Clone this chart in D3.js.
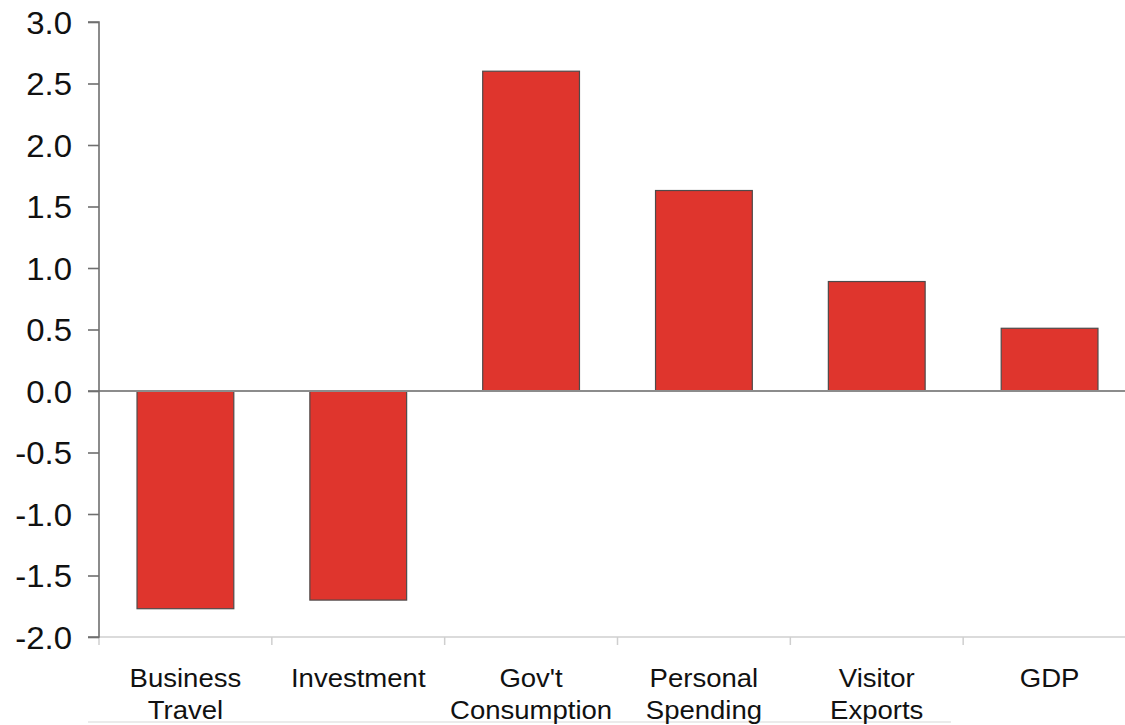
<!DOCTYPE html>
<html>
<head>
<meta charset="utf-8">
<script src="https://cdn.jsdelivr.net/npm/d3@7"></script>
<style>
  html, body { margin: 0; padding: 0; background: #fff; }
  svg { display: block; }
  text { font-family: "Liberation Sans", Arial, sans-serif; fill: #111; }
</style>
</head>
<body>
<svg id="chart" width="1125" height="725"></svg>
<script>
// Contribution by component (percentage points)
const categories = ["Business Travel", "Investment", "Gov't Consumption", "Personal Spending", "Visitor Exports", "GDP"];
const values = [-1.77, -1.70, 2.60, 1.63, 0.89, 0.51];
const yTicks = [-2.0, -1.5, -1.0, -0.5, 0.0, 0.5, 1.0, 1.5, 2.0, 2.5, 3.0];

const W = 1125, H = 725;
const svg = d3.select("#chart");

const y = d3.scaleLinear().domain([-2, 3]).range([637, 22]);
const x = d3.scaleBand()
  .domain(categories)
  .range([99, 1136])
  .paddingInner(0.44)
  .paddingOuter(0.22);

const textStretch = 1.08;

// bottom category axis (light gray) with separators between categories
const bottom = svg.append("g");
bottom.append("line")
  .attr("x1", 99).attr("x2", W)
  .attr("y1", y(-2)).attr("y2", y(-2))
  .attr("stroke", "#cfcfcf").attr("stroke-width", 1.5);
bottom.selectAll("line.sep")
  .data(categories)
  .join("line")
  .attr("class", "sep")
  .attr("x1", d => x(d) - x.step() * x.paddingOuter())
  .attr("x2", d => x(d) - x.step() * x.paddingOuter())
  .attr("y1", y(-2)).attr("y2", y(-2) + 8)
  .attr("stroke", "#cfcfcf").attr("stroke-width", 1.5);

// faint rule under the labels
svg.append("line")
  .attr("x1", 88).attr("x2", 951)
  .attr("y1", 722).attr("y2", 722)
  .attr("stroke", "#e4e4e4").attr("stroke-width", 1.5);

// bars
svg.append("g")
  .selectAll("rect")
  .data(values)
  .join("rect")
  .attr("x", (d, i) => x(categories[i]))
  .attr("width", x.bandwidth())
  .attr("y", d => y(Math.max(0, d)))
  .attr("height", d => Math.abs(y(d) - y(0)))
  .attr("fill", "#df352d")
  .attr("stroke", "#4f4a4a")
  .attr("stroke-width", 1.2);

// zero line
svg.append("line")
  .attr("x1", 88).attr("x2", W)
  .attr("y1", y(0)).attr("y2", y(0))
  .attr("stroke", "#8c8c8c").attr("stroke-width", 2);

// y axis
const yAxis = svg.append("g")
  .attr("transform", "translate(99,0)")
  .call(d3.axisLeft(y).tickValues(yTicks).tickSize(11).tickPadding(0)
    .tickFormat(d => d.toFixed(1)));
yAxis.select(".domain").attr("stroke", "#6f6f6f").attr("stroke-width", 1.6)
  .attr("d", `M-11,${y(3)}H0V${y(-2)}H-11`);
yAxis.selectAll(".tick line").attr("stroke", "#6f6f6f").attr("stroke-width", 1.6);
yAxis.selectAll(".tick text")
  .attr("x", 0).attr("dy", null).attr("y", 11)
  .attr("transform", `translate(-27,0) scale(${textStretch},1)`)
  .attr("text-anchor", "end")
  .style("font-family", '"Liberation Sans", Arial, sans-serif')
  .style("font-size", "30.5px")
  .style("fill", "#111");

// category labels
const labels = svg.append("g").selectAll("text")
  .data(categories)
  .join("text")
  .attr("text-anchor", "middle")
  .attr("transform", d => `translate(${x(d) + x.bandwidth() / 2},687) scale(${textStretch},1)`)
  .style("font-size", "25.5px");
labels.each(function(d) {
  const words = d.split(" ");
  d3.select(this).selectAll("tspan")
    .data(words)
    .join("tspan")
    .attr("x", 0)
    .attr("y", (w, i) => i * 32)
    .text(w => w);
});
</script>
</body>
</html>
